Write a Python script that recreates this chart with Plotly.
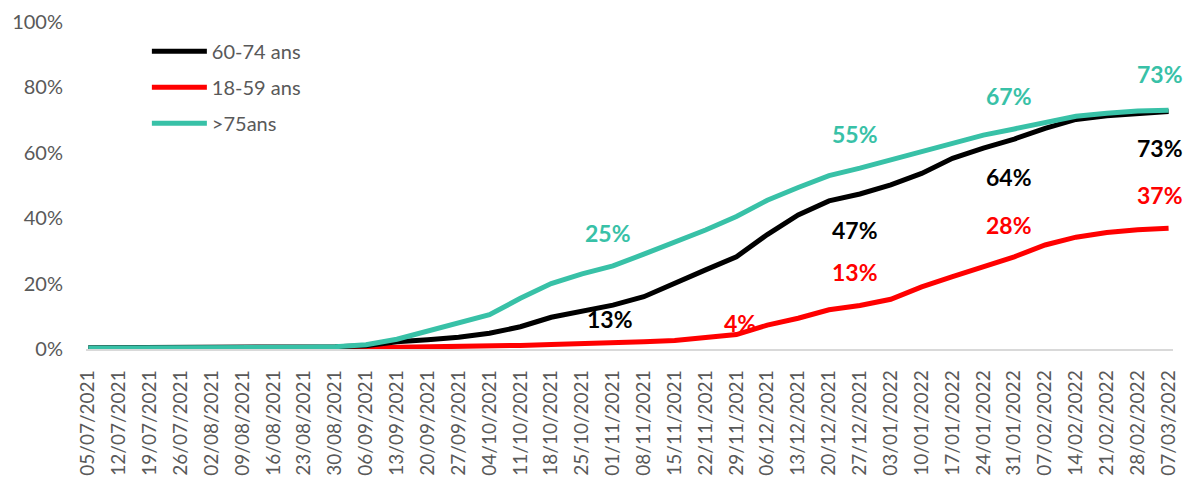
import pandas as pd
import plotly.graph_objects as go

# ---- data (weekly readings) ----
dates = pd.date_range("2021-07-05", "2022-03-07", freq="7D")
tick_labels = [d.strftime("%d/%m/%Y") for d in dates]

ages_60_74 = [0.4, 0.4, 0.4, 0.4, 0.4, 0.5, 0.5, 0.6, 0.7, 1.0,
              2.2, 2.8, 3.6, 4.8, 6.8, 9.7, 11.7, 13.4, 16.0, 20.3,
              24.2, 28.2, 35.0, 41.0, 45.3, 47.4, 50.2, 53.7, 58.3, 61.4,
              64.2, 67.5, 70.2, 71.3, 72.1, 72.6]
ages_18_59 = [0.0, 0.0, 0.0, 0.05, 0.1, 0.1, 0.15, 0.2, 0.25, 0.35,
              0.5, 0.6, 0.7, 0.9, 1.1, 1.4, 1.6, 1.9, 2.2, 2.6,
              3.5, 4.4, 7.3, 9.4, 12.0, 13.3, 15.2, 19.0, 22.1, 25.2,
              28.2, 31.8, 34.2, 35.6, 36.5, 36.9]
ages_75 = [0.3, 0.3, 0.3, 0.3, 0.3, 0.4, 0.4, 0.5, 0.7, 1.3,
           3.0, 5.5, 7.8, 10.5, 15.5, 20.0, 23.0, 25.4, 29.0, 32.5,
           36.4, 40.5, 45.5, 49.4, 53.0, 55.3, 57.8, 60.3, 62.9, 65.4,
           67.3, 69.2, 71.2, 72.1, 72.8, 73.0]

series_names = ["60-74 ans", "18-59 ans", ">75ans"]
series_values = [ages_60_74, ages_18_59, ages_75]
series_colors = ["#000000", "#FF0000", "#38C1A7"]

# label points: (series index, date index, x shift px, y shift px)
label_points = [
    (2, 17, -5, 33), (0, 17, -3, -14), (1, 21, 4, 12),
    (2, 25, -5, 34), (0, 25, -5, -36), (1, 25, -5, 34),
    (2, 30, -5, 33), (0, 30, -5, -38), (1, 30, -5, 32),
    (2, 35, -9, 36), (0, 35, -9, -36), (1, 35, -9, 33),
]

FONT = "Lato"
GREY = "#595959"

fig = go.Figure()
draw_order = [1, 0, 2]
for i in draw_order:
    fig.add_trace(go.Scatter(
        x=dates, y=[v / 100 for v in series_values[i]],
        mode="lines", name=series_names[i],
        line=dict(color=series_colors[i], width=5),
        legendrank=i + 1, legendgroup=series_names[i],
        hoverinfo="skip",
    ))

for si, di, dx, dy in label_points:
    v = series_values[si][di]
    fig.add_annotation(
        x=dates[di], y=v / 100, text=f"{round(v):d}%",
        showarrow=False, yshift=dy, xshift=dx,
        font=dict(family=FONT, size=23, color=series_colors[si], weight="bold"),
    )

fig.update_layout(
    width=1195, height=483,
    margin=dict(l=86, r=22, t=22, b=134),
    paper_bgcolor="white", plot_bgcolor="white",
    font=dict(family=FONT, color=GREY, size=20),
    showlegend=True,
    legend=dict(
        x=0.056, y=0.97, xanchor="left", yanchor="top",
        bgcolor="rgba(0,0,0,0)", font=dict(size=20, color=GREY),
        itemwidth=55, tracegroupgap=7, traceorder="grouped",
    ),
    xaxis=dict(
        range=[dates[0] - pd.Timedelta(days=0.5), dates[-1] + pd.Timedelta(days=1)],
        tickmode="array", tickvals=dates, ticktext=tick_labels,
        tickangle=-90, showgrid=False, zeroline=False,
        showline=True, linecolor="#D9D9D9", linewidth=1.5,
        ticks="", ticklabelstandoff=12, automargin=False,
        tickfont=dict(size=19, color=GREY, family=FONT),
    ),
    yaxis=dict(
        range=[0, 1], dtick=0.2, tickformat=".0%",
        showgrid=False, zeroline=False, showline=False, ticks="",
        ticklabelstandoff=22, automargin=False,
        tickfont=dict(size=20, color=GREY, family=FONT),
    ),
)

fig.write_html("out.html", config={"displayModeBar": False},
               post_script="document.body.style.margin='0';")
